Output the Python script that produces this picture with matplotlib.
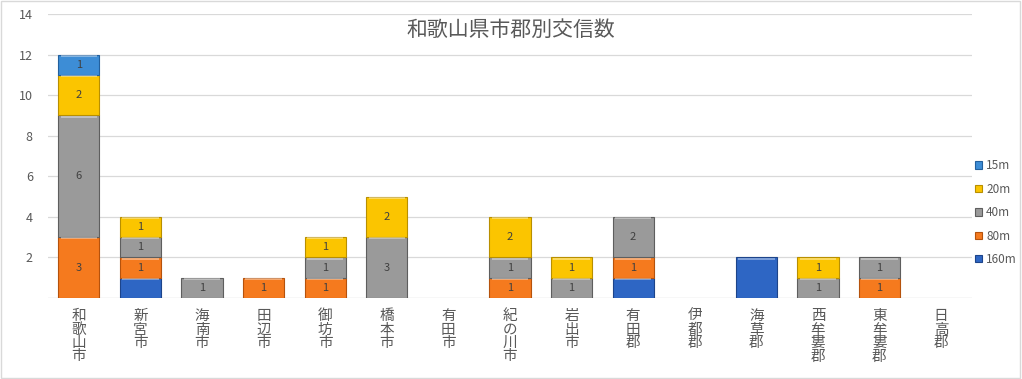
import numpy as np
import matplotlib
matplotlib.use('Agg')
import matplotlib.pyplot as plt

plt.rcParams['font.family'] = ['Noto Sans CJK JP', 'DejaVu Sans']

categories = ['和歌山市', '新宮市', '海南市', '田辺市', '御坊市', '橋本市', '有田市', '紀の川市',
              '岩出市', '有田郡', '伊都郡', '海草郡', '西牟婁郡', '東牟婁郡', '日高郡']
m160 = [0, 1, 0, 0, 0, 0, 0, 0, 0, 1, 0, 2, 0, 0, 0]
m80 = [3, 1, 0, 1, 1, 0, 0, 1, 0, 1, 0, 0, 0, 1, 0]
m40 = [6, 1, 1, 0, 1, 3, 0, 1, 1, 2, 0, 0, 1, 1, 0]
m20 = [2, 1, 0, 0, 1, 2, 0, 2, 1, 0, 0, 0, 1, 0, 0]
m15 = [1, 0, 0, 0, 0, 0, 0, 0, 0, 0, 0, 0, 0, 0, 0]

series = [('160m', m160, '#2E66C4', '#1D448A', False),
          ('80m', m80, '#F57A1E', '#B5520C', True),
          ('40m', m40, '#9A9A9A', '#5E5E5E', True),
          ('20m', m20, '#FBC500', '#B88F00', True),
          ('15m', m15, '#3D8DD6', '#22609E', True)]

fig = plt.figure(figsize=(10.22, 3.79), dpi=100)
ax = fig.add_axes([0.047, 0.2137, 0.904, 0.7493])

x = np.arange(len(categories))
bottom = np.zeros(len(categories))
handles = []
for name, vals, color, edge, show in series:
    vals = np.array(vals, dtype=float)
    nz = vals > 0
    bars = ax.bar(x[nz], vals[nz], width=0.67, bottom=bottom[nz], color=color,
                  edgecolor=edge, linewidth=0.8, zorder=3, label=name)
    # light highlight on top edge to mimic the bevel
    for b in bars:
        ax.plot([b.get_x() + 0.04, b.get_x() + b.get_width() - 0.04],
                [b.get_y() + b.get_height() - 0.06] * 2, color='white', alpha=0.45,
                lw=1.2, zorder=4, solid_capstyle='butt')
    if show:
        for xi, v, b0 in zip(x[nz], vals[nz], bottom[nz]):
            ax.text(xi, b0 + v / 2, f'{int(v)}', ha='center', va='center',
                    fontsize=8, color='#404040', zorder=5)
    handles.append(bars)
    bottom += vals

ax.set_xlim(-0.5, len(categories) - 0.5)
ax.set_ylim(0, 14)
ax.set_yticks(np.arange(2, 15, 2))
ax.tick_params(axis='y', length=0, labelsize=9, labelcolor='#595959', pad=11)
ax.set_xticks(x)
ax.set_xticklabels(['\n'.join(c) for c in categories], fontsize=10.5,
                   color='#595959', linespacing=0.95, va='top')
ax.tick_params(axis='x', length=0, pad=8)
ax.yaxis.grid(True, color='#D9D9D9', lw=0.9, zorder=0)
ax.axhline(0, color='#D9D9D9', lw=1.0, zorder=1)
for s in ax.spines.values():
    s.set_visible(False)

fig.text(0.5, 0.92, '和歌山県市郡別交信数', ha='center', va='center',
         fontsize=15, color='#595959')

leg = fig.legend(handles[::-1], [s[0] for s in series][::-1], loc='center left',
                 bbox_to_anchor=(0.944, 0.439), frameon=False, fontsize=8.5,
                 handlelength=0.6, handleheight=0.6, handletextpad=0.3,
                 labelspacing=0.88, labelcolor='#595959')

fig.add_artist(plt.Rectangle((0.001, 0.002), 0.997, 0.995, transform=fig.transFigure,
                             fill=False, edgecolor='#D9D9D9', lw=1))

fig.savefig('out.png', dpi=100)
